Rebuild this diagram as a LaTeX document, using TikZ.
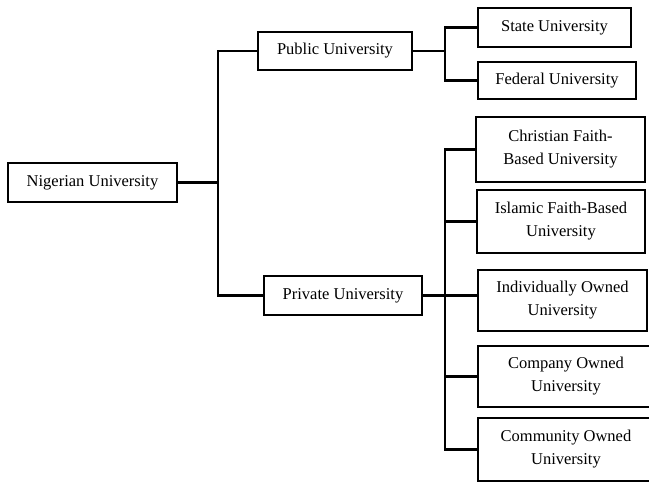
\documentclass[tikz,border=0pt]{standalone}
\usepackage{fontspec}
\setmainfont{Liberation Serif}
\begin{document}
\begin{tikzpicture}[x=1pt,y=-1pt,
  box/.style={draw, line width=2.8pt, inner sep=0pt, align=center,
    font=\fontsize{16.5}{23}\selectfont},
  conn/.style={line width=2.8pt}]
\useasboundingbox (0,0) rectangle (649,482);
\clip (0,0) rectangle (649,482);
\fill[white] (0,0) rectangle (649,482);
\node[box, minimum width=169pt, minimum height=39pt] (nig) at (92.5,182.5) {Nigerian University};
\node[box, minimum width=154pt, minimum height=38pt] (pub) at (335,51) {Public University};
\node[box, minimum width=158pt, minimum height=39pt] (priv) at (343,295.5) {Private University};
\node[box, minimum width=153pt, minimum height=39pt] (state) at (554.5,27.5) {State University};
\node[box, minimum width=158pt, minimum height=37pt] (fed) at (557,80.5) {Federal University};
\node[box, minimum width=169pt, minimum height=65pt] (chr) at (560.5,149.5) {Christian Faith-\\Based University};
\node[box, minimum width=168pt, minimum height=63pt] (isl) at (561,221.5) {Islamic Faith-Based\\University};
\node[box, minimum width=169pt, minimum height=61pt] (ind) at (562.5,300.5) {Individually Owned\\University};
\node[box, minimum width=176pt, minimum height=61pt] (cmp) at (566,376.5) {Company Owned\\University};
\node[box, minimum width=176pt, minimum height=63pt] (com) at (566,449.5) {Community Owned\\University};
\coordinate (b1) at (218,0);
\coordinate (b2) at (445,0);
\coordinate (b3) at (445,0);
\draw[conn] (nig.east) -- (b1 |- nig.east);
\draw[conn] (pub.west) -- (b1 |- pub.west) -- (b1 |- priv.west) -- (priv.west);
\draw[conn] (pub.east) -- (b2 |- pub.east);
\draw[conn] (state.west) -- (b2 |- state.west) -- (b2 |- fed.west) -- (fed.west);
\draw[conn] (priv.east) -- (ind.west |- priv.east);
\draw[conn] (chr.west) -- (b3 |- chr.west) -- (b3 |- com.west) -- (com.west);
\draw[conn] (b3 |- isl.west) -- (isl.west);
\draw[conn] (b3 |- cmp.west) -- (cmp.west);
\end{tikzpicture}
\end{document}
